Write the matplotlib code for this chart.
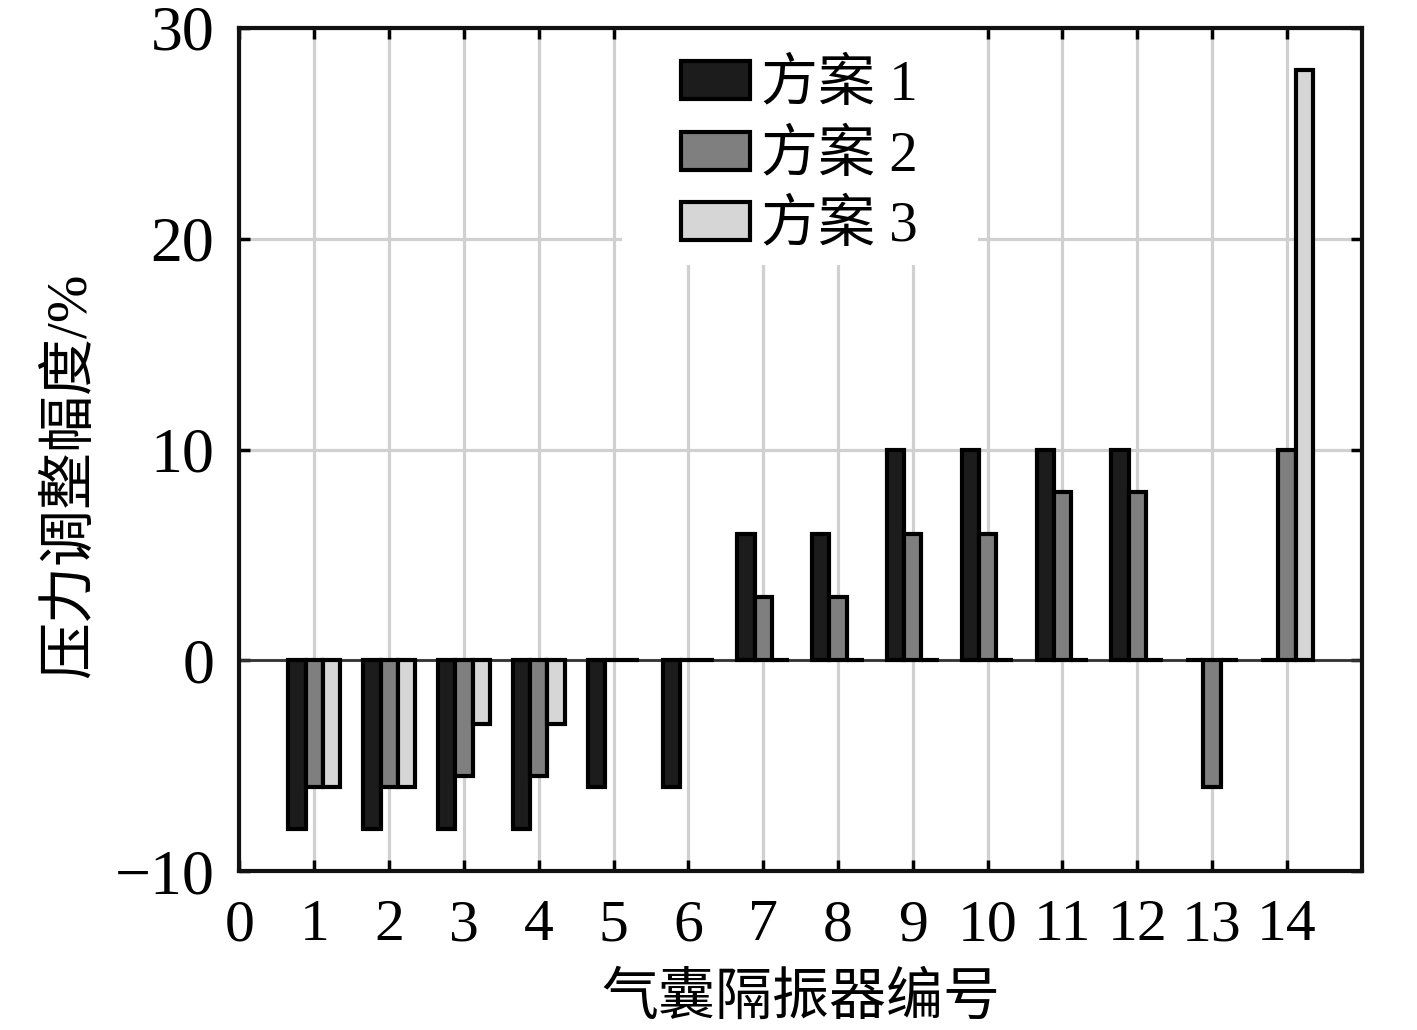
import matplotlib
matplotlib.use("Agg")
import matplotlib.pyplot as plt
from matplotlib.patches import Rectangle
import numpy as np

plt.rcParams['font.family'] = ['Liberation Serif', 'Noto Sans CJK SC']
plt.rcParams['axes.unicode_minus'] = True

isolators = list(range(1, 15))
scheme1 = [-8, -8, -8, -8, -6, -6, 6, 6, 10, 10, 10, 10, 0, 0]
scheme2 = [-6, -6, -5.5, -5.5, 0, 0, 3, 3, 6, 6, 8, 8, -6, 10]
scheme3 = [-6, -6, -3, -3, 0, 0, 0, 0, 0, 0, 0, 0, 0, 28]
labels = ['方案 1', '方案 2', '方案 3']
colors = ['#1c1c1c', '#7f7f7f', '#d6d6d6']
xticks = list(range(0, 15))
yticks = [-10, 0, 10, 20, 30]
ytick_labels = ['\u221210', '0', '10', '20', '30']

fig = plt.figure(figsize=(14.17, 10.30), dpi=100)
ax = fig.add_axes([0.169, 0.154, 0.792, 0.819])

x = np.array(isolators, dtype=float)
w = 0.23
for i, (vals, lab, c) in enumerate(zip([scheme1, scheme2, scheme3], labels, colors)):
    ax.bar(x + (i - 1) * w, vals, width=w, color=c, edgecolor='black',
           linewidth=3, label=lab, zorder=3)

ax.axhline(0, color='#333333', linewidth=2.0, zorder=2)

ax.set_xlim(0, 15)
ax.set_ylim(-10, 30)
ax.set_xticks(xticks)
ax.set_yticks(yticks)
ax.set_yticklabels(ytick_labels)
ax.grid(True, color='#d0d0d0', linewidth=2.3, zorder=0)
ax.set_axisbelow(True)

ax.tick_params(direction='in', length=8, width=2.5, top=True, right=True)
ax.tick_params(axis='x', labelsize=43, pad=20)
ax.tick_params(axis='y', labelsize=46, pad=18)
for s in ax.spines.values():
    s.set_linewidth(3)
    s.set_color('#111111')
    s.set_zorder(5)

ax.set_xlabel('气囊隔振器编号', fontsize=41, labelpad=14)
ax.set_ylabel('压力调整幅度/%', fontsize=41)
ax.yaxis.set_label_coords(-0.127, 0.47)

# white legend background box (no border)
ax.add_patch(Rectangle((0.3405, 0.719), 0.3175, 0.281, transform=ax.transAxes,
                       facecolor='white', edgecolor='none', zorder=1))

leg = ax.legend(loc='upper center', bbox_to_anchor=(0.499, 1.0), fontsize=41,
                frameon=False, handlelength=1.2, handleheight=0.65,
                handletextpad=0.2, labelspacing=0.3, borderpad=0.55,
                borderaxespad=0.0)
leg.set_zorder(4)

fig.savefig('out.png', dpi=100)
